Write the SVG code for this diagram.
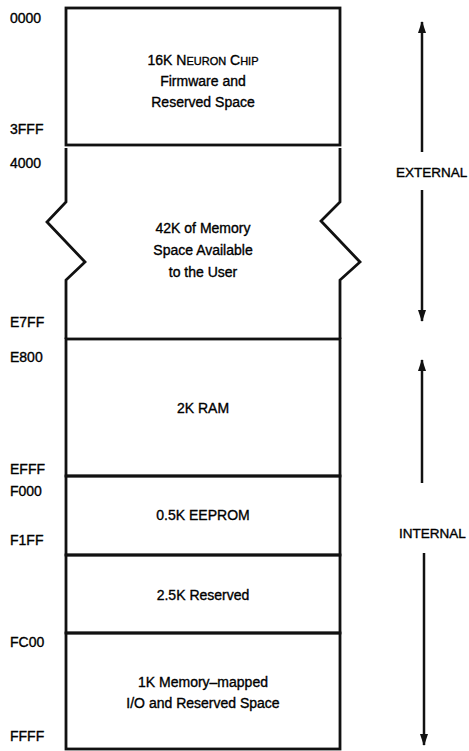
<svg xmlns="http://www.w3.org/2000/svg" width="469" height="751" viewBox="0 0 469 751">
<style>
text{font-family:"Liberation Sans",Arial,sans-serif;font-size:14px;fill:#000;stroke:#000;stroke-width:0.35}
.c{text-anchor:middle}
.sc{font-size:11px}
.r{font-size:13.5px}
.b{fill:none;stroke:#111;stroke-width:2.8;stroke-linejoin:miter}
.a{stroke:#111;stroke-width:2.5;fill:none}
</style>
<defs>
<marker id="ah" viewBox="0 0 12 8" refX="11" refY="4" markerWidth="12" markerHeight="8" markerUnits="userSpaceOnUse" orient="auto">
<path d="M0,0 L12,4 L0,8 Z" fill="#111"/>
</marker>
</defs>
<rect width="469" height="751" fill="#fff"/>
<g id="addresses">
<text x="10" y="23">0000</text>
<text x="10" y="134">3FFF</text>
<text x="10" y="168">4000</text>
<text x="10" y="327">E7FF</text>
<text x="10" y="362">E800</text>
<text x="10" y="474">EFFF</text>
<text x="10" y="496">F000</text>
<text x="10" y="545">F1FF</text>
<text x="10" y="647">FC00</text>
<text x="10" y="741">FFFF</text>
</g>
<g id="firmware">
<rect class="b" x="66" y="8" width="274" height="137"/>
<text class="c" x="203" y="65">16K N<tspan class="sc">EURON</tspan> C<tspan class="sc">HIP</tspan></text>
<text class="c" x="203" y="86">Firmware and</text>
<text class="c" x="203" y="107">Reserved Space</text>
</g>
<g id="user">
<path class="b" d="M66,148 V202 L47,222 L85,262 L66,280 V339"/>
<path class="b" d="M340,148 V202 L321,221 L360,262 L340,280 V339"/>
<text class="c" x="203" y="233">42K of Memory</text>
<text class="c" x="203" y="255">Space Available</text>
<text class="c" x="203" y="277">to the User</text>
</g>
<g id="ram">
<rect class="b" x="66" y="339" width="274" height="137"/>
<text class="c" x="203" y="413">2K RAM</text>
</g>
<g id="eeprom">
<rect class="b" x="66" y="476" width="274" height="79"/>
<text class="c" x="203" y="520">0.5K EEPROM</text>
</g>
<g id="reserved">
<rect class="b" x="66" y="555" width="274" height="78"/>
<text class="c" x="203" y="600">2.5K Reserved</text>
</g>
<g id="io">
<rect class="b" x="66" y="633" width="274" height="116"/>
<text class="c" x="203" y="687">1K Memory–mapped</text>
<text class="c" x="203" y="708">I/O and Reserved Space</text>
</g>
<g id="ranges">
<text class="r" x="396" y="177">EXTERNAL</text>
<text class="r" x="399" y="538">INTERNAL</text>
</g>
<g id="connectors">
<line class="a" x1="422" y1="152" x2="422" y2="22" marker-end="url(#ah)"/>
<line class="a" x1="422" y1="190" x2="422" y2="321" marker-end="url(#ah)"/>
<line class="a" x1="422" y1="483" x2="422" y2="360" marker-end="url(#ah)"/>
<line class="a" x1="424" y1="553" x2="424" y2="745" marker-end="url(#ah)"/>
</g>
</svg>
